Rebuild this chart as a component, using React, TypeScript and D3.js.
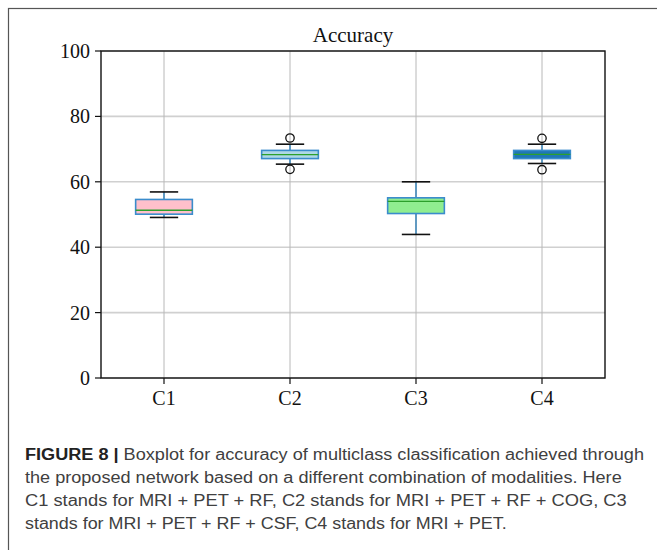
import { useEffect, useRef } from 'react';
import * as d3 from 'd3';

// Box statistics (accuracy, %)
const categories = ['C1', 'C2', 'C3', 'C4'];
const whiskerLow = [49.1, 65.4, 43.9, 65.6];
const q1 = [50.1, 67.1, 50.3, 67.1];
const median = [51.3, 68.3, 54.0, 68.4];
const q3 = [54.6, 69.6, 55.1, 69.6];
const whiskerHigh = [56.9, 71.5, 60.0, 71.5];
const outliers = [[], [73.4, 63.8], [], [73.3, 63.7]];
const boxFills = ['#ffc0cb', '#add8e6', '#90ee90', '#1f77b4'];
const yTicks = [0, 20, 40, 60, 80, 100];

const captionLines = [
  'the proposed network based on a different combination of modalities. Here',
  'C1 stands for MRI + PET + RF, C2 stands for MRI + PET + RF + COG, C3',
  'stands for MRI + PET + RF + CSF, C4 stands for MRI + PET.',
];
const captionEnds = [621.7, 626.7, 506.7];

export default function App() {
  const svgRef = useRef<SVGSVGElement>(null);

  useEffect(() => {
    if (!svgRef.current) return;
    const svg = d3.select(svgRef.current);
    svg.selectAll('*').remove();

    const serif = '"Liberation Serif", "Times New Roman", serif';
    const sans = '"Liberation Sans", Arial, sans-serif';
    const left = 101, right = 605, top = 51, bottom = 378;

    // outer figure frame (runs off the page on the right and bottom)
    svg.append('rect')
      .attr('x', 8.5).attr('y', 8.5)
      .attr('width', 700).attr('height', 600)
      .attr('fill', 'none').attr('stroke', '#555').attr('stroke-width', 1.2);

    const x = d3.scaleBand().domain(categories).range([left, right]).padding(0);
    const y = d3.scaleLinear().domain([0, 100]).range([bottom, top]);
    const cx = (c: string) => (x(c) || 0) + x.bandwidth() / 2;
    const boxW = x.bandwidth() * 0.45;
    const capW = boxW / 2;

    // grid
    svg.append('g').selectAll('line')
      .data(yTicks)
      .join('line')
      .attr('x1', left).attr('x2', right)
      .attr('y1', (d) => y(d)).attr('y2', (d) => y(d))
      .attr('stroke', '#d0d0d0').attr('stroke-width', 1.6);
    svg.append('g').selectAll('line')
      .data(categories)
      .join('line')
      .attr('x1', (d) => cx(d)).attr('x2', (d) => cx(d))
      .attr('y1', top).attr('y2', bottom)
      .attr('stroke', '#b8b8b8').attr('stroke-width', 1);

    // boxes
    const boxes = svg.append('g').selectAll('g')
      .data(categories)
      .join('g');

    boxes.append('line')
      .attr('x1', (d) => cx(d)).attr('x2', (d) => cx(d))
      .attr('y1', (d, i) => y(whiskerHigh[i])).attr('y2', (d, i) => y(q3[i]))
      .attr('stroke', '#1f77b4').attr('stroke-width', 1.3);
    boxes.append('line')
      .attr('x1', (d) => cx(d)).attr('x2', (d) => cx(d))
      .attr('y1', (d, i) => y(q1[i])).attr('y2', (d, i) => y(whiskerLow[i]))
      .attr('stroke', '#1f77b4').attr('stroke-width', 1.3);

    boxes.append('rect')
      .attr('x', (d) => cx(d) - boxW / 2)
      .attr('width', boxW)
      .attr('y', (d, i) => y(q3[i]))
      .attr('height', (d, i) => y(q1[i]) - y(q3[i]))
      .attr('fill', (d, i) => boxFills[i])
      .attr('stroke', '#3a8ccc').attr('stroke-width', 1.6);

    boxes.append('line')
      .attr('x1', (d) => cx(d) - boxW / 2).attr('x2', (d) => cx(d) + boxW / 2)
      .attr('y1', (d, i) => y(median[i])).attr('y2', (d, i) => y(median[i]))
      .attr('stroke', '#2ca02c').attr('stroke-width', 1.3);

    [whiskerHigh, whiskerLow].forEach((arr) => {
      boxes.append('line')
        .attr('x1', (d) => cx(d) - capW / 2).attr('x2', (d) => cx(d) + capW / 2)
        .attr('y1', (d, i) => y(arr[i])).attr('y2', (d, i) => y(arr[i]))
        .attr('stroke', '#111').attr('stroke-width', 1.6);
    });

    boxes.each(function (d, i) {
      d3.select(this).selectAll('circle')
        .data(outliers[i])
        .join('circle')
        .attr('cx', cx(d))
        .attr('cy', (v) => y(v))
        .attr('r', 4.2)
        .attr('fill', 'none')
        .attr('stroke', '#111')
        .attr('stroke-width', 1.3);
    });

    // spines
    svg.append('rect')
      .attr('x', left).attr('y', top)
      .attr('width', right - left).attr('height', bottom - top)
      .attr('fill', 'none').attr('stroke', '#111').attr('stroke-width', 1.4);

    // y ticks
    const yAxis = svg.append('g');
    yAxis.selectAll('line')
      .data(yTicks)
      .join('line')
      .attr('x1', left - 6).attr('x2', left)
      .attr('y1', (d) => y(d)).attr('y2', (d) => y(d))
      .attr('stroke', '#111').attr('stroke-width', 1.2);
    yAxis.selectAll('text')
      .data(yTicks)
      .join('text')
      .attr('x', left - 11)
      .attr('y', (d) => y(d))
      .attr('dy', '0.35em')
      .attr('text-anchor', 'end')
      .attr('font-family', serif)
      .attr('font-size', 20)
      .attr('fill', '#111')
      .text((d) => d);

    // x ticks
    const xAxis = svg.append('g');
    xAxis.selectAll('line')
      .data(categories)
      .join('line')
      .attr('x1', (d) => cx(d)).attr('x2', (d) => cx(d))
      .attr('y1', bottom).attr('y2', bottom + 6)
      .attr('stroke', '#111').attr('stroke-width', 1.2);
    xAxis.selectAll('text')
      .data(categories)
      .join('text')
      .attr('x', (d) => cx(d))
      .attr('y', 405)
      .attr('text-anchor', 'middle')
      .attr('font-family', serif)
      .attr('font-size', 20)
      .attr('fill', '#111')
      .text((d) => d);

    // title
    svg.append('text')
      .attr('x', (left + right) / 2)
      .attr('y', 41.5)
      .attr('text-anchor', 'middle')
      .attr('font-family', serif)
      .attr('font-size', 21)
      .attr('fill', '#111')
      .text('Accuracy');

    // caption
    const first = svg.append('text')
      .attr('x', 25).attr('y', 459.5)
      .attr('font-family', sans)
      .attr('font-size', 16)
      .attr('fill', '#404040')
      .attr('textLength', 644 - 25)
      .attr('lengthAdjust', 'spacingAndGlyphs');
    first.append('tspan').attr('font-weight', 'bold').attr('fill', '#222').text('FIGURE 8 | ');
    first.append('tspan').text('Boxplot for accuracy of multiclass classification achieved through');

    svg.append('g').selectAll('text')
      .data(captionLines)
      .join('text')
      .attr('x', 25)
      .attr('y', (d, i) => 482.8 + i * 23.3)
      .attr('font-family', sans)
      .attr('font-size', 16)
      .attr('fill', '#404040')
      .attr('textLength', (d, i) => captionEnds[i] - 25)
      .attr('lengthAdjust', 'spacingAndGlyphs')
      .text((d) => d);
  }, []);

  return (
    <div style={{ position: 'absolute', left: 0, top: 0, width: 657, height: 550, background: '#fff' }}>
      <svg ref={svgRef} width={657} height={550} style={{ display: 'block' }} />
    </div>
  );
}
